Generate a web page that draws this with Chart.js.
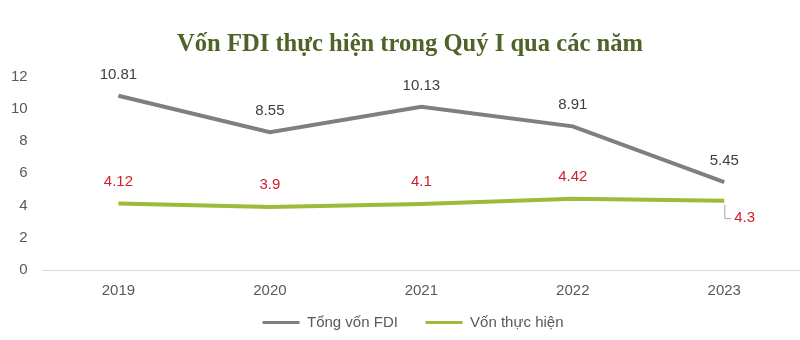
<!DOCTYPE html>
<html>
<head>
<meta charset="utf-8">
<title>Vốn FDI thực hiện</title>
<style>
html, body { margin: 0; padding: 0; background: #fff; }
.chartBox { width: 800px; height: 340px; }
</style>
</head>
<body>
<div class="chartBox">
	<canvas id="myChart" width="800" height="340"></canvas>
</div>
<script src="https://cdn.jsdelivr.net/npm/chart.js@4.4.0/dist/chart.umd.min.js"></script>
<script>

const years = ['2019', '2020', '2021', '2022', '2023'];
const tongVon = [10.81, 8.55, 10.13, 8.91, 5.45];
const vonThucHien = [4.12, 3.9, 4.1, 4.42, 4.3];
const yTicks = [0, 2, 4, 6, 8, 10, 12];

const sansFont = '"Liberation Sans", Arial, sans-serif';

// value labels: grey above the total line, red above the disbursed line
// (last red one sits below-right with a small leader line)
const valueLabels = {
    id: 'valueLabels',
    afterDatasetsDraw(chart) {
        const ctx = chart.ctx;
        ctx.save();
        ctx.font = '15px ' + sansFont;
        ctx.textAlign = 'center';
        ctx.textBaseline = 'middle';
        chart.data.datasets.forEach(function(ds, di) {
            const meta = chart.getDatasetMeta(di);
            meta.data.forEach(function(pt, i) {
                const v = ds.data[i];
                if (di === 0) {
                    ctx.fillStyle = '#404040';
                    ctx.fillText(v, pt.x, pt.y - 21);
                } else if (i === ds.data.length - 1) {
                    ctx.strokeStyle = '#a6a6a6';
                    ctx.lineWidth = 1;
                    ctx.beginPath();
                    ctx.moveTo(pt.x + 0.5, pt.y + 4);
                    ctx.lineTo(pt.x + 0.5, pt.y + 18);
                    ctx.lineTo(pt.x + 7, pt.y + 18);
                    ctx.stroke();
                    ctx.fillStyle = '#d0202e';
                    ctx.textAlign = 'left';
                    ctx.fillText(v, pt.x + 10, pt.y + 17);
                    ctx.textAlign = 'center';
                } else {
                    ctx.fillStyle = '#d0202e';
                    ctx.fillText(v, pt.x, pt.y - 22);
                }
            });
        });
        ctx.restore();
    }
};

// title and legend sit a little right of the canvas centre
const shiftBlocks = {
    id: 'shiftBlocks',
    afterLayout(chart) {
        chart.titleBlock.left += 8;
        chart.titleBlock.right += 8;
        chart.legend.left += 11;
        chart.legend.right += 11;
    }
};

const data = {
    labels: years,
    datasets: [{
        label: 'Tổng vốn FDI',
        data: tongVon,
        borderColor: '#7f7f7f',
        backgroundColor: '#7f7f7f',
        borderWidth: 4,
        pointRadius: 0,
        tension: 0,
        fill: false
    }, {
        label: 'Vốn thực hiện',
        data: vonThucHien,
        borderColor: '#9dbb38',
        backgroundColor: '#9dbb38',
        borderWidth: 4,
        pointRadius: 0,
        tension: 0,
        fill: false
    }]
};

const config = {
    type: 'line',
    data,
    options: {
        responsive: false,
        animation: false,
        layout: { padding: { left: 4, right: 0, top: 0, bottom: 0 } },
        plugins: {
            title: {
                display: true,
                text: 'Vốn FDI thực hiện trong Quý I qua các năm',
                color: '#4f6228',
                font: { family: '"Liberation Serif", "Times New Roman", serif', size: 24.6, weight: 'bold' },
                padding: { top: 30, bottom: 17 }
            },
            legend: {
                position: 'bottom',
                labels: {
                    color: '#595959',
                    font: { family: sansFont, size: 15 },
                    boxWidth: 37,
                    boxHeight: 3,
                    padding: 11,
                    generateLabels(chart) {
                        const items = Chart.defaults.plugins.legend.labels.generateLabels(chart);
                        items.forEach(it => { it.lineWidth = 0; });
                        // wider gap after the first entry
                        items[0].text += '\u00a0\u00a0\u00a0\u00a0';
                        return items;
                    }
                }
            },
            tooltip: { enabled: false }
        },
        scales: {
            x: {
                offset: true,
                grid: { display: false },
                border: { display: true, color: '#d9d9d9', width: 1 },
                ticks: {
                    color: '#595959',
                    padding: 4,
                    font: { family: sansFont, size: 15 }
                }
            },
            y: {
                min: 0,
                max: 12,
                afterBuildTicks(scale) {
                    scale.ticks = yTicks.map(v => ({ value: v }));
                },
                grid: { display: false },
                border: { display: false },
                ticks: {
                    color: '#595959',
                    padding: 7,
                    font: { family: sansFont, size: 15 }
                }
            }
        }
    },
    plugins: [valueLabels, shiftBlocks]
};

const myChart = new Chart(document.getElementById('myChart'), config);

</script>
</body>
</html>
